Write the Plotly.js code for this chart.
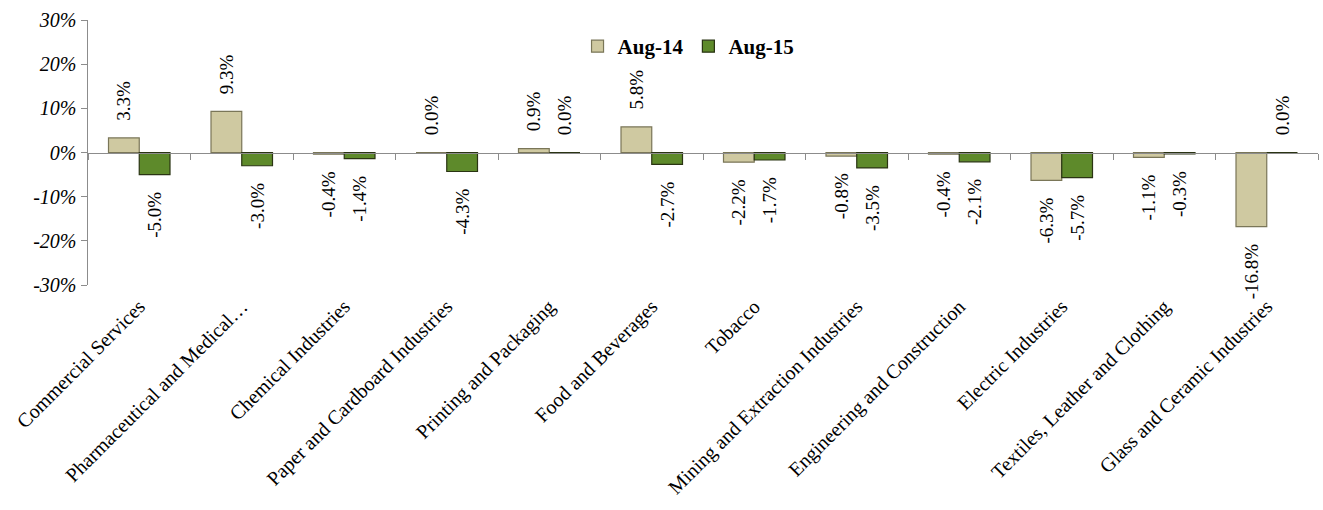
<!DOCTYPE html>
<html>
<head>
<meta charset="utf-8">
<script src="https://cdn.plot.ly/plotly-3.0.1.min.js"></script>
<style>html,body{margin:0;padding:0;background:#fff;}#chart{width:1323px;height:510px;}</style>
</head>
<body>
<div id="chart"></div>
<script>
const categories = [
  "Commercial Services",
  "Pharmaceutical and Medical…",
  "Chemical Industries",
  "Paper and Cardboard Industries",
  "Printing and Packaging",
  "Food and Beverages",
  "Tobacco",
  "Mining and Extraction Industries",
  "Engineering and Construction",
  "Electric Industries",
  "Textiles, Leather and Clothing",
  "Glass and Ceramic Industries"
];
const aug14 = [3.3, 9.3, -0.4, 0.0, 0.9, 5.8, -2.2, -0.8, -0.4, -6.3, -1.1, -16.8];
const aug15 = [-5.0, -3.0, -1.4, -4.3, 0.0, -2.7, -1.7, -3.5, -2.1, -5.7, -0.3, 0.0];
const yTicks = [-30, -20, -10, 0, 10, 20, 30];

const serif = "Liberation Serif, Times New Roman, serif";
const labelFont = {family: serif, size: 19, color: "#000"};
const pad = "\u00A0\u00A0\u00A0";

function labels(vals) {
  return vals.map(v => {
    const t = v.toFixed(1) + "%";
    return v >= 0 ? pad + t : t + pad;
  });
}

function barTrace(name, vals, fill, edge) {
  return {
    type: "bar", name: name, x: categories, y: vals,
    marker: {color: fill, line: {color: edge, width: 1.2}},
    text: labels(vals), textposition: "outside", textangle: -90,
    textfont: labelFont, constraintext: "none", cliponaxis: false,
    hoverinfo: "skip"
  };
}

const data = [
  barTrace("Aug-14", aug14, "#CFC9A1", "#7A7658"),
  barTrace("Aug-15", aug15, "#5E8A2B", "#2A3413")
];

const layout = {
  width: 1323, height: 510,
  margin: {l: 88, r: 5, t: 20, b: 225},
  paper_bgcolor: "#fff", plot_bgcolor: "#fff",
  barmode: "group", bargap: 0.4, bargroupgap: 0,
  showlegend: true,
  legend: {orientation: "h", x: 0.398, xanchor: "left", y: 0.9, yanchor: "middle",
           font: {family: serif, size: 21, color: "#000", weight: "bold"},
           itemwidth: 30, tracegroupgap: 0, bgcolor: "rgba(0,0,0,0)"},
  xaxis: {
    type: "category", anchor: "free", position: 0.5,
    showline: true, linecolor: "#8C8C8C", linewidth: 1.5,
    ticks: "outside", tickson: "boundaries", ticklen: 6, tickcolor: "#8C8C8C",
    tickangle: -45, ticklabelstandoff: 133,
    tickfont: {family: serif, size: 20, color: "#000"},
    showgrid: false, zeroline: false, fixedrange: true
  },
  yaxis: {
    range: [-30, 30], tickmode: "array", tickvals: yTicks,
    ticktext: yTicks.map(v => "<i>" + v + "%</i>"),
    showline: true, linecolor: "#8C8C8C", linewidth: 1.5,
    ticks: "outside", ticklen: 6, tickcolor: "#8C8C8C",
    tickfont: {family: serif, size: 20, color: "#000", style: "italic"},
    showgrid: false, zeroline: false, fixedrange: true
  }
};

Plotly.newPlot("chart", data, layout, {staticPlot: true, displayModeBar: false});
</script>
</body>
</html>
